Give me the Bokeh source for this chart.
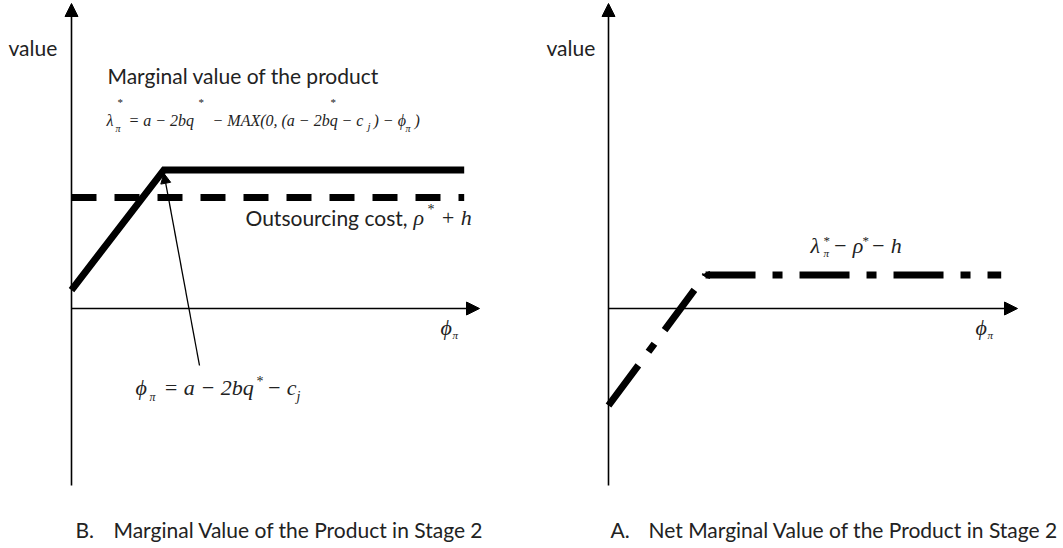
from bokeh.plotting import figure
from bokeh.layouts import row
from bokeh.models import Range1d, Arrow, NormalHead, Label
from bokeh.embed import file_html
from bokeh.resources import INLINE

# ---------------- data ----------------
left_phi = [0.0, 4.0, 17.0]          # phi_pi breakpoints (kink at a-2bq*-c_j)
left_value = [0.8, 6.0, 6.0]         # marginal value of the product
outsourcing_phi = [0.0, 17.0]
outsourcing_cost = [4.8, 4.8]        # rho* + h
net_phi = [0.0, 4.2, 17.0]
net_value = [-4.2, 1.45, 1.45]       # lambda* - rho* - h

captions = ["B.", "Marginal Value of the Product in Stage 2",
            "A.", "Net Marginal Value of the Product in Stage 2"]
axis_label = "value"

# ---------------- layout ----------------
H = 547
S = 23.1                      # pixels per unit
W1, W2 = 535, 527
L1, L2 = 0, 535               # page x of each figure's left edge
TOP = 0                       # page y of the figures' top edge
OX1, OX2, OY = 71, 608, 308   # page position of each origin
SANS = "Lato"
SERIF = "Liberation Serif"
TXT = "#222222"
BASE_FIX = 0.37               # baseline correction, fraction of font size


def make_fig(w, left, ox):
    p = figure(width=w, height=H, output_backend="svg", toolbar_location=None,
               x_axis_type=None, y_axis_type=None, min_border=0,
               x_range=Range1d(-(ox - left) / S, (w - (ox - left)) / S),
               y_range=Range1d(-(H - (OY - TOP)) / S, (OY - TOP) / S))
    p.outline_line_color = None
    p.background_fill_color = "white"
    p.border_fill_color = "white"
    # vertical axis drawn as an arrow
    p.add_layout(Arrow(end=NormalHead(size=13, fill_color="black", line_color="black"),
                       x_start=0, y_start=-(485 - OY) / S, x_end=0, y_end=(OY - 3) / S,
                       line_width=1.6, line_color="black"))
    return p


def put(p, ox, X, Y, text, size, font=SANS, style="normal", align="left"):
    # place text whose baseline is at page pixel (X, Y), using the figure's data scale
    Yc = Y - BASE_FIX * size
    p.add_layout(Label(x=(X - ox) / S, y=(OY - Yc) / S,
                       text=text, text_font=font, text_font_size=f"{size}px",
                       text_font_style=style, text_color=TXT,
                       text_baseline="alphabetic", text_align=align))


# ---------------- left panel ----------------
p1 = make_fig(W1, L1, OX1)
p1.add_layout(Arrow(end=NormalHead(size=13, fill_color="black", line_color="black"),
                    x_start=0, y_start=0, x_end=(479 - OX1) / S, y_end=0,
                    line_width=1.6, line_color="black"))
p1.line(outsourcing_phi, outsourcing_cost, line_width=7, line_color="black",
        line_dash="25 18")
p1.line(left_phi, left_value, line_width=7, line_color="black", line_join="miter")
# thin pointer arrow to the kink
p1.add_layout(Arrow(end=NormalHead(size=10, fill_color="black", line_color="black"),
                    x_start=(199 - OX1) / S, y_start=-(365 - OY) / S,
                    x_end=left_phi[1], y_end=left_value[1] - 0.15,
                    line_width=1.3, line_color="black"))

put(p1, OX1, 8, 55, axis_label, 21)
put(p1, OX1, 107, 83, "Marginal value of the product", 21)
# lambda*_pi = a - 2bq* - MAX(0,(a - 2bq* - c_j) - phi_pi)
FS = 16
put(p1, OX1, 106, 126, "λ", FS, SERIF, "italic")
put(p1, OX1, 115, 132, "π", 10, SERIF, "italic")
put(p1, OX1, 117, 106, "*", 11, SERIF)
put(p1, OX1, 128, 126, "= a − 2bq", FS, SERIF, "italic")
put(p1, OX1, 198, 106, "*", 11, SERIF)
put(p1, OX1, 212, 126, "− MAX(0, (a − 2bq", FS, SERIF, "italic")
put(p1, OX1, 330, 106, "*", 11, SERIF)
put(p1, OX1, 341, 126, "− c", FS, SERIF, "italic")
put(p1, OX1, 367, 130, "j", 11, SERIF, "italic")
put(p1, OX1, 373, 126, ") − ϕ", FS, SERIF, "italic")
put(p1, OX1, 405, 132, "π", 10, SERIF, "italic")
put(p1, OX1, 414, 126, ")", FS, SERIF, "italic")
# Outsourcing cost, rho* + h
put(p1, OX1, 245, 225, "Outsourcing cost,", 21)
put(p1, OX1, 413, 225, "ρ", 22, SERIF, "italic")
put(p1, OX1, 427, 214, "*", 14, SERIF)
put(p1, OX1, 440, 225, "+ h", 22, SERIF, "italic")
# phi_pi axis label
put(p1, OX1, 440, 335, "ϕ", 22, SERIF, "italic")
put(p1, OX1, 452, 339, "π", 11, SERIF, "italic")
# phi_pi = a - 2bq* - c_j
put(p1, OX1, 135, 395, "ϕ", 22, SERIF, "italic")
put(p1, OX1, 149, 401, "π", 12, SERIF, "italic")
put(p1, OX1, 163, 395, "= a − 2bq", 22, SERIF, "italic")
put(p1, OX1, 256, 386, "*", 14, SERIF)
put(p1, OX1, 266, 395, "− c", 22, SERIF, "italic")
put(p1, OX1, 296, 401, "j", 14, SERIF, "italic")
# caption
put(p1, OX1, 75, 537, captions[0], 21)
put(p1, OX1, 113, 537, captions[1], 21)

# ---------------- right panel ----------------
p2 = make_fig(W2, L2, OX2)
p2.add_layout(Arrow(end=NormalHead(size=13, fill_color="black", line_color="black"),
                    x_start=0, y_start=0, x_end=(1017 - OX2) / S, y_end=0,
                    line_width=1.6, line_color="black"))
p2.multi_line(xs=[net_phi[0:2], net_phi[1:3]], ys=[net_value[0:2], net_value[1:3]],
              line_width=7, line_color="black", line_dash="50 17 10 17")
p2.add_layout(Arrow(end=NormalHead(size=7, fill_color="black", line_color="black"),
                    x_start=net_phi[1] + 0.3, y_start=net_value[1],
                    x_end=net_phi[1] - 0.13, y_end=net_value[1],
                    line_width=0, line_alpha=0))

put(p2, OX2, 546, 55, axis_label, 21)
# lambda*_pi - rho* - h
put(p2, OX2, 810, 253, "λ", 22, SERIF, "italic")
put(p2, OX2, 823, 257, "π", 11, SERIF, "italic")
put(p2, OX2, 823, 245, "*", 13, SERIF)
put(p2, OX2, 832, 253, "− ρ", 22, SERIF, "italic")
put(p2, OX2, 862, 245, "*", 13, SERIF)
put(p2, OX2, 870, 253, "− h", 22, SERIF, "italic")
# phi_pi axis label
put(p2, OX2, 975, 335, "ϕ", 22, SERIF, "italic")
put(p2, OX2, 987, 339, "π", 11, SERIF, "italic")
# caption
put(p2, OX2, 610, 537, captions[2], 21)
put(p2, OX2, 648, 537, captions[3], 21)

layout = row(p1, p2)
open("out.html", "w").write(file_html(layout, INLINE))
